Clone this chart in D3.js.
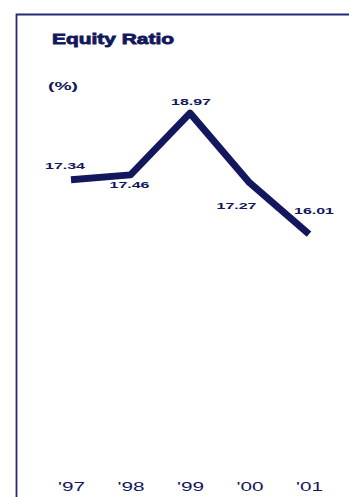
<!DOCTYPE html>
<html>
<head>
<meta charset="utf-8">
<script src="https://cdn.jsdelivr.net/npm/d3@7"></script>
<style>
  body { margin: 0; background: #fff; }
  svg { display: block; }
</style>
</head>
<body>
<svg id="chart"></svg>
<script>
// data
const years = ["'97", "'98", "'99", "'00", "'01"];
const ratios = [17.34, 17.46, 18.97, 17.27, 16.01];
const labelText = ["17.34", "17.46", "18.97", "17.27", "16.01"];

const W = 349, H = 497;
const navy = "#12175e";

const svg = d3.select("#chart")
    .attr("width", W)
    .attr("height", H);

// frame (top + left rule)
svg.append("path")
    .attr("d", "M" + W + ",14.5H16.5V" + H)
    .attr("fill", "none")
    .attr("stroke", "#252a72")
    .attr("stroke-width", 1.8);

// title + unit
svg.append("text")
    .attr("x", 52).attr("y", 44)
    .attr("textLength", 122)
    .attr("lengthAdjust", "spacingAndGlyphs")
    .style("font", "bold 15px 'Liberation Sans', Arial, sans-serif")
    .style("fill", navy)
    .style("stroke", navy)
    .style("stroke-width", 0.8)
    .text("Equity Ratio");

svg.append("text")
    .attr("x", 48).attr("y", 90)
    .attr("textLength", 30)
    .attr("lengthAdjust", "spacingAndGlyphs")
    .style("font", "bold 10px 'Liberation Sans', Arial, sans-serif")
    .style("fill", navy)
    .text("(%)");

// scales
const x = d3.scalePoint()
    .domain(years)
    .range([71, 309]);

const y = d3.scaleLinear()
    .domain([10, 20])
    .range([480, 71]);

// line
const line = d3.line()
    .x((d, i) => x(years[i]))
    .y(d => y(d));

svg.append("path")
    .datum(ratios)
    .attr("d", line)
    .attr("fill", "none")
    .attr("stroke", navy)
    .attr("stroke-width", 7)
    .attr("stroke-linejoin", "round");

// value labels: offsets relative to each point
const labelOffsets = [[-6, -11], [-1, 13], [1, -8], [-13, 26], [5, -20]];

svg.selectAll(".val")
    .data(ratios)
    .enter()
    .append("text")
    .attr("class", "val")
    .attr("x", (d, i) => x(years[i]) + labelOffsets[i][0])
    .attr("y", (d, i) => y(d) + labelOffsets[i][1])
    .attr("text-anchor", "middle")
    .attr("textLength", 40)
    .attr("lengthAdjust", "spacingAndGlyphs")
    .style("font", "bold 9px 'Liberation Sans', Arial, sans-serif")
    .style("fill", navy)
    .text((d, i) => labelText[i]);

// x axis (labels only)
const xAxis = d3.axisBottom(x).tickSize(0).tickPadding(0);

const gX = svg.append("g")
    .attr("transform", "translate(0,482)")
    .call(xAxis);

gX.select(".domain").remove();
gX.selectAll(".tick text")
    .attr("dy", "0.75em")
    .attr("textLength", 27)
    .attr("lengthAdjust", "spacingAndGlyphs")
    .style("font", "12px 'Liberation Sans', Arial, sans-serif")
    .style("fill", navy);
</script>
</body>
</html>
